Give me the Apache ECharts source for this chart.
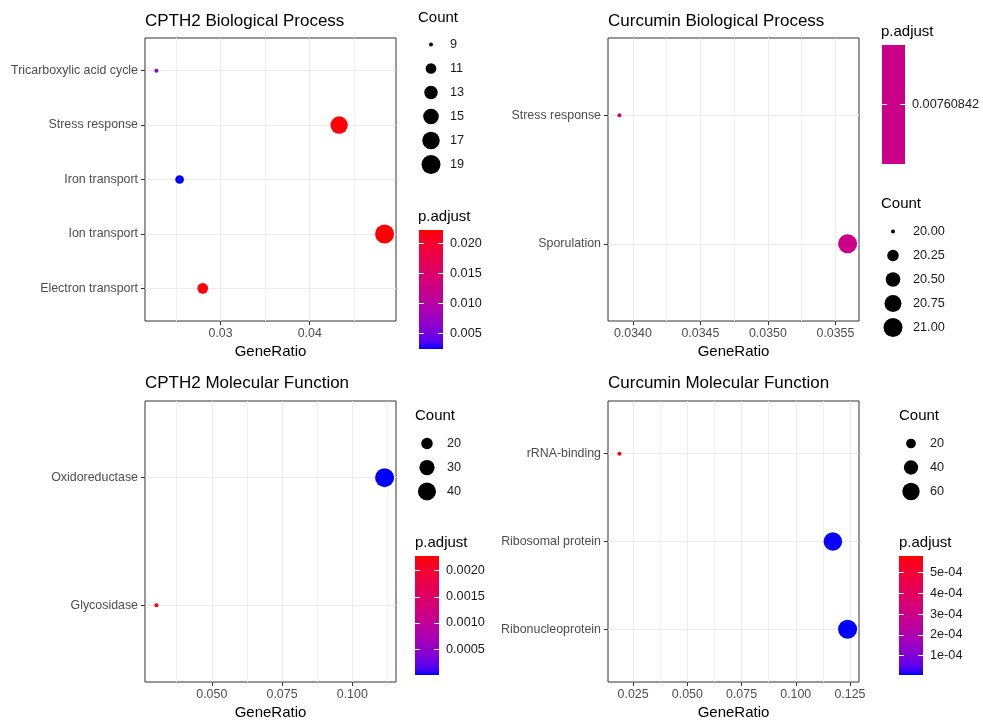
<!DOCTYPE html>
<html><head><meta charset="utf-8">
<script src="https://cdn.jsdelivr.net/npm/echarts@6/dist/echarts.min.js"></script>
<style>html,body{margin:0;padding:0;background:#fff}#c{width:983px;height:721px}</style>
</head><body><div id="c"></div>
<script>
// ---------------- DATA ----------------
// Panel 1: CPTH2 Biological Process (categories listed bottom -> top)
const tlTitle = 'CPTH2 Biological Process';
const tlTerms = ['Electron transport', 'Ion transport', 'Iron transport', 'Stress response', 'Tricarboxylic acid cycle'];
const tlRatio = [0.0280, 0.0484, 0.0254, 0.0433, 0.0228];
const tlCount = [11, 19, 10, 17, 9];
const tlPadj  = [0.0220, 0.0222, 0.0024, 0.0219, 0.0065];
const tlXTicks = [0.03, 0.04];
const tlXLabels = ['0.03', '0.04'];
const tlXMinor = [0.025, 0.035, 0.045];
const tlCountBreaks = [9, 11, 13, 15, 17, 19];
const tlCountLabels = ['9', '11', '13', '15', '17', '19'];
const tlPTicks = [0.005, 0.010, 0.015, 0.020];
const tlPLabels = ['0.005', '0.010', '0.015', '0.020'];

// Panel 2: Curcumin Biological Process
const trTitle = 'Curcumin Biological Process';
const trTerms = ['Sporulation', 'Stress response'];
const trRatio = [0.03559, 0.03390];
const trCount = [21, 20];
const trPadj  = [0.00760842, 0.00760842];
const trXTicks = [0.0340, 0.0345, 0.0350, 0.0355];
const trXLabels = ['0.0340', '0.0345', '0.0350', '0.0355'];
const trXMinor = [0.03425, 0.03475, 0.03525];
const trCountBreaks = [20, 20.25, 20.5, 20.75, 21];
const trCountLabels = ['20.00', '20.25', '20.50', '20.75', '21.00'];
const trPTicks = [0.00760842];
const trPLabels = ['0.00760842'];

// Panel 3: CPTH2 Molecular Function
const blTitle = 'CPTH2 Molecular Function';
const blTerms = ['Glycosidase', 'Oxidoreductase'];
const blRatio = [0.0303, 0.1115];
const blCount = [12, 44];
const blPadj  = [0.00228, 0.000004];
const blXTicks = [0.050, 0.075, 0.100];
const blXLabels = ['0.050', '0.075', '0.100'];
const blXMinor = [0.0375, 0.0625, 0.0875, 0.1125];
const blCountBreaks = [20, 30, 40];
const blCountLabels = ['20', '30', '40'];
const blPTicks = [0.0005, 0.0010, 0.0015, 0.0020];
const blPLabels = ['0.0005', '0.0010', '0.0015', '0.0020'];

// Panel 4: Curcumin Molecular Function
const brTitle = 'Curcumin Molecular Function';
const brTerms = ['Ribonucleoprotein', 'Ribosomal protein', 'rRNA-binding'];
const brRatio = [0.1239, 0.1171, 0.0187];
const brCount = [73, 69, 11];
const brPadj  = [0.000006, 0.000010, 0.00058];
const brXTicks = [0.025, 0.050, 0.075, 0.100, 0.125];
const brXLabels = ['0.025', '0.050', '0.075', '0.100', '0.125'];
const brXMinor = [0.0375, 0.0625, 0.0875, 0.1125];
const brCountBreaks = [20, 40, 60];
const brCountLabels = ['20', '40', '60'];
const brPTicks = [0.0001, 0.0002, 0.0003, 0.0004, 0.0005];
const brPLabels = ['1e-04', '2e-04', '3e-04', '4e-04', '5e-04'];

// ---------------- COLOUR (Lab ramp blue -> red, like ggplot) ----------------
const Xn = 0.95047, Yn = 1, Zn = 1.08883;
function toLin(c){ c /= 255; return c <= 0.04045 ? c / 12.92 : Math.pow((c + 0.055) / 1.055, 2.4); }
function toSrgb(c){ c = Math.max(0, Math.min(1, c)); return c <= 0.0031308 ? 12.92 * c : 1.055 * Math.pow(c, 1 / 2.4) - 0.055; }
function fL(t){ return t > 0.008856 ? Math.cbrt(t) : 7.787 * t + 16 / 116; }
function fInv(t){ return t > 0.206893 ? t * t * t : (t - 16 / 116) / 7.787; }
function rgb2lab(rgb){
  const R = toLin(rgb[0]), G = toLin(rgb[1]), B = toLin(rgb[2]);
  const X = 0.4124 * R + 0.3576 * G + 0.1805 * B, Y = 0.2126 * R + 0.7152 * G + 0.0722 * B, Z = 0.0193 * R + 0.1192 * G + 0.9505 * B;
  const fx = fL(X / Xn), fy = fL(Y / Yn), fz = fL(Z / Zn);
  return [116 * fy - 16, 500 * (fx - fy), 200 * (fy - fz)];
}
function lab2hex(lab){
  const fy = (lab[0] + 16) / 116, fx = fy + lab[1] / 500, fz = fy - lab[2] / 200;
  const X = Xn * fInv(fx), Y = Yn * fInv(fy), Z = Zn * fInv(fz);
  const R = 3.2406 * X - 1.5372 * Y - 0.4986 * Z, G = -0.9689 * X + 1.8758 * Y + 0.0415 * Z, B = 0.0557 * X - 0.2040 * Y + 1.0570 * Z;
  return '#' + [R, G, B].map(c => Math.round(toSrgb(c) * 255).toString(16).padStart(2, '0')).join('');
}
const LAB_LO = rgb2lab([0, 0, 255]), LAB_HI = rgb2lab([255, 0, 0]);
function ramp(t){ return lab2hex(LAB_LO.map((v, i) => v + (LAB_HI[i] - v) * t)); }
const RAMP = []; for (let i = 0; i <= 20; i++) RAMP.push(ramp(i / 20));

// ---------------- BUILD ----------------
const FONT = '"Liberation Sans", Arial, Helvetica, sans-serif';
const TICK_FS = 12.4, LEG_FS = 12.7;
const grids = [], xAxes = [], yAxes = [], series = [], titles = [], vms = [];

function sizeOf(c, cmin, cmax){
  const t = cmax > cmin ? (c - cmin) / (cmax - cmin) : 0;
  return 4 + 15 * Math.sqrt(Math.max(0, Math.min(1, t)));
}
function labelFor(vals, labs){
  return v => { const i = vals.findIndex(m => Math.abs(m - v) < 1e-12 * Math.max(1, Math.abs(m)) + 1e-15); return i >= 0 ? labs[i] : ''; };
}
function addTitle(text, left, top, size){
  titles.push({ text, left, top, padding: 0, textStyle: { fontFamily: FONT, fontSize: size, fontWeight: 'normal', color: '#000' } });
}

function panel(p){
  const n = p.terms.length;
  const cmin = Math.min(...p.count), cmax = Math.max(...p.count);
  const xmin0 = Math.min(...p.ratio), xmax0 = Math.max(...p.ratio), xr = xmax0 - xmin0;
  const xmin = xmin0 - 0.05 * xr, xmax = xmax0 + 0.05 * xr;
  const gi = grids.length;
  grids.push({ left: p.box[0], top: p.box[1], width: p.box[2], height: p.box[3], show: true, borderColor: '#333333', borderWidth: 1, backgroundColor: '#fff' });
  const xi = xAxes.length;
  xAxes.push({
    gridIndex: gi, type: 'value', min: xmin, max: xmax, position: 'bottom',
    axisLine: { show: false },
    axisTick: { show: true, length: 4, lineStyle: { color: '#333' }, customValues: p.xTicks },
    axisLabel: { customValues: p.xTicks, formatter: labelFor(p.xTicks, p.xLabels), color: '#4D4D4D', fontSize: TICK_FS, fontFamily: FONT, margin: 7 },
    splitLine: { show: true, lineStyle: { color: '#EBEBEB', width: 1 } },
    name: 'GeneRatio', nameLocation: 'middle', nameGap: 23,
    nameTextStyle: { fontSize: 15, color: '#000', fontFamily: FONT }
  });
  xAxes.push({
    gridIndex: gi, type: 'value', min: xmin, max: xmax, position: 'top',
    axisLine: { show: false },
    axisTick: { show: false, customValues: p.xMinor },
    axisLabel: { show: false, customValues: p.xMinor },
    splitLine: { show: true, lineStyle: { color: '#F0F0F0', width: 1 } }
  });
  const pos = p.terms.map((t, i) => i + 1);
  const yi = yAxes.length;
  yAxes.push({
    gridIndex: gi, type: 'value', min: 0.4, max: n + 0.6,
    axisLine: { show: false },
    axisTick: { show: true, length: 4, lineStyle: { color: '#333' }, customValues: pos },
    axisLabel: { customValues: pos, formatter: v => p.terms[Math.round(v) - 1] || '', color: '#4D4D4D', fontSize: TICK_FS, fontFamily: FONT, margin: 7 },
    splitLine: { show: true, lineStyle: { color: '#EBEBEB', width: 1 } }
  });
  const si = series.length;
  series.push({
    type: 'scatter', xAxisIndex: xi, yAxisIndex: yi, z: 3,
    data: p.terms.map((t, i) => [p.ratio[i], i + 1, p.count[i], p.padj[i]]),
    symbolSize: v => sizeOf(v[2], cmin, cmax),
    itemStyle: { opacity: 1 }
  });
  const pmin = Math.min(...p.padj), pmax = Math.max(...p.padj);
  const single = pmax - pmin < 1e-15;
  vms.push({
    type: 'continuous', show: false, seriesIndex: si, dimension: 3,
    min: single ? pmin * 0.5 : pmin, max: single ? pmin * 1.5 : pmax,
    inRange: { color: RAMP }
  });

  // ---- Count legend ----
  const L = p.countLeg;
  addTitle('Count', L.titleX, L.titleY, 15);
  const cg = grids.length;
  grids.push({ left: L.dotX - 10, top: L.firstY - 12, width: 20, height: p.countBreaks.length * 24, show: false });
  const cxi = xAxes.length;
  xAxes.push({ gridIndex: cg, type: 'value', min: -1, max: 1, show: false });
  const cyi = yAxes.length;
  yAxes.push({
    gridIndex: cg, type: 'category', data: p.countLabels, inverse: true, position: 'right',
    axisLine: { show: false }, axisTick: { show: false }, splitLine: { show: false },
    axisLabel: { color: '#1A1A1A', fontSize: LEG_FS, fontFamily: FONT, margin: L.labelX - (L.dotX + 10) }
  });
  series.push({
    type: 'scatter', xAxisIndex: cxi, yAxisIndex: cyi, silent: true,
    data: p.countBreaks.map((b, i) => [0, i, b]),
    symbolSize: v => sizeOf(v[2], cmin, cmax),
    itemStyle: { color: '#000', opacity: 1 }
  });

  // ---- p.adjust colourbar ----
  const B = p.barLeg;
  addTitle('p.adjust', B.titleX, B.titleY, 15);
  const bg = grids.length;
  grids.push({ left: B.x, top: B.y, width: B.w, height: B.h, show: false });
  const bxi = xAxes.length;
  xAxes.push({ gridIndex: bg, type: 'category', data: ['p'], show: false, boundaryGap: true });
  const bmin = single ? pmin * 0.5 : pmin, bmax = single ? pmin * 1.5 : pmax;
  yAxes.push({
    gridIndex: bg, type: 'value', min: bmin, max: bmax, position: 'right', z: 10,
    axisLine: { show: false }, splitLine: { show: false },
    axisTick: { show: true, inside: true, length: 5, lineStyle: { color: '#fff', width: 1 }, customValues: p.pTicks },
    axisLabel: { customValues: p.pTicks, formatter: labelFor(p.pTicks, p.pLabels), color: '#1A1A1A', fontSize: LEG_FS, fontFamily: FONT, margin: 7 }
  });
  yAxes.push({
    gridIndex: bg, type: 'value', min: bmin, max: bmax, position: 'left', z: 10,
    axisLine: { show: false }, splitLine: { show: false },
    axisTick: { show: true, inside: true, length: 5, lineStyle: { color: '#fff', width: 1 }, customValues: p.pTicks },
    axisLabel: { show: false, customValues: p.pTicks }
  });
  const byi = yAxes.length;
  yAxes.push({ gridIndex: bg, type: 'value', min: 0, max: 1, show: false });
  const stops = [];
  if (single) { stops.push({ offset: 0, color: ramp(0.5) }, { offset: 1, color: ramp(0.5) }); }
  else { for (let i = 0; i <= 20; i++) stops.push({ offset: i / 20, color: ramp(1 - i / 20) }); }
  series.push({
    type: 'bar', xAxisIndex: bxi, yAxisIndex: byi, silent: true, z: 1,
    barWidth: '100%', data: [1],
    itemStyle: { color: { type: 'linear', x: 0, y: 0, x2: 0, y2: 1, colorStops: stops } }
  });

  addTitle(p.title, p.box[0], p.titleY, 17);
}

panel({
  title: tlTitle, terms: tlTerms, ratio: tlRatio, count: tlCount, padj: tlPadj,
  xTicks: tlXTicks, xLabels: tlXLabels, xMinor: tlXMinor,
  countBreaks: tlCountBreaks, countLabels: tlCountLabels, pTicks: tlPTicks, pLabels: tlPLabels,
  box: [145, 38, 251, 283], titleY: 13,
  countLeg: { titleX: 418, titleY: 10, dotX: 431, firstY: 44.5, labelX: 450 },
  barLeg: { titleX: 418, titleY: 209, x: 419, y: 230, w: 24, h: 119 }
});
panel({
  title: trTitle, terms: trTerms, ratio: trRatio, count: trCount, padj: trPadj,
  xTicks: trXTicks, xLabels: trXLabels, xMinor: trXMinor,
  countBreaks: trCountBreaks, countLabels: trCountLabels, pTicks: trPTicks, pLabels: trPLabels,
  box: [608, 38, 251, 283], titleY: 13,
  countLeg: { titleX: 881, titleY: 196, dotX: 893, firstY: 231.5, labelX: 913 },
  barLeg: { titleX: 881, titleY: 24, x: 882, y: 45, w: 23, h: 119 }
});
panel({
  title: blTitle, terms: blTerms, ratio: blRatio, count: blCount, padj: blPadj,
  xTicks: blXTicks, xLabels: blXLabels, xMinor: blXMinor,
  countBreaks: blCountBreaks, countLabels: blCountLabels, pTicks: blPTicks, pLabels: blPLabels,
  box: [145, 401, 251, 282], titleY: 375,
  countLeg: { titleX: 415, titleY: 408, dotX: 427, firstY: 443.5, labelX: 447 },
  barLeg: { titleX: 415, titleY: 535, x: 415, y: 556, w: 24, h: 119 }
});
panel({
  title: brTitle, terms: brTerms, ratio: brRatio, count: brCount, padj: brPadj,
  xTicks: brXTicks, xLabels: brXLabels, xMinor: brXMinor,
  countBreaks: brCountBreaks, countLabels: brCountLabels, pTicks: brPTicks, pLabels: brPLabels,
  box: [608, 401, 251, 282], titleY: 375,
  countLeg: { titleX: 899, titleY: 408, dotX: 911, firstY: 443.5, labelX: 930 },
  barLeg: { titleX: 899, titleY: 535, x: 899, y: 556, w: 24, h: 119 }
});

const chart = echarts.init(document.getElementById('c'), null, { renderer: 'canvas' });
chart.setOption({
  animation: false, backgroundColor: '#fff',
  title: titles, grid: grids, xAxis: xAxes, yAxis: yAxes, visualMap: vms, series: series
});
</script></body></html>
